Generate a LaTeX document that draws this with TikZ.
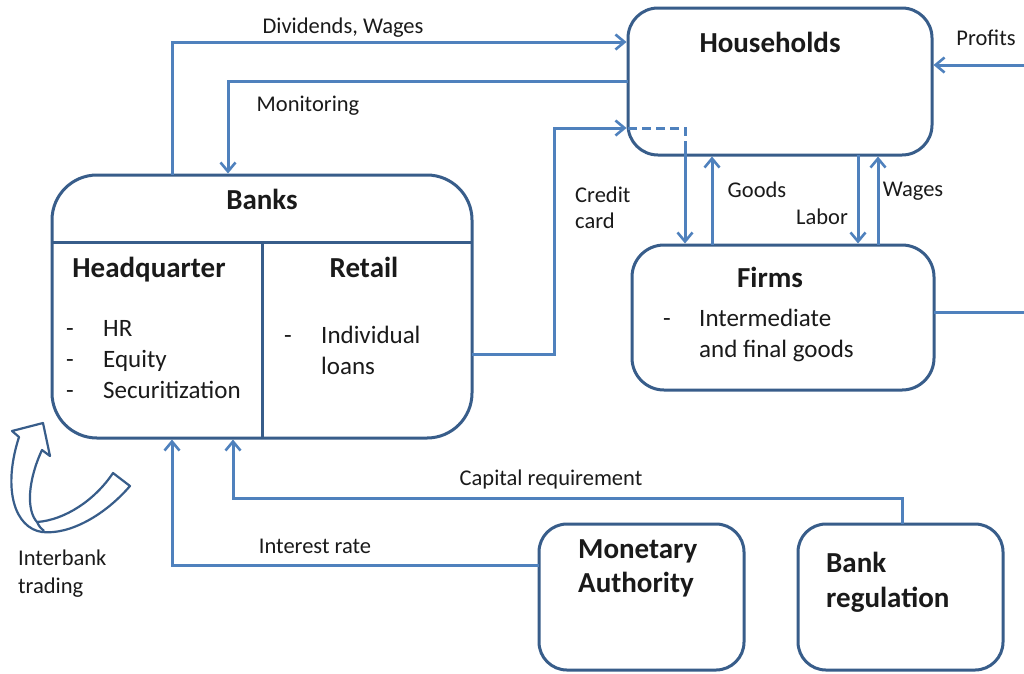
\documentclass[tikz,border=0pt]{standalone}
\usepackage{fontspec}
\setmainfont{Carlito}
\usetikzlibrary{arrows.meta}
\definecolor{boxblue}{HTML}{385D8A}
\definecolor{linkblue}{HTML}{4F81BD}
\definecolor{txt}{HTML}{1A1A1A}
\begin{document}
\begin{tikzpicture}[x=1pt,y=-1pt,
  box/.style={draw=boxblue, line width=3pt, fill=white, inner sep=0pt, outer sep=0pt, rounded corners=#1},
  box/.default=30pt,
  boxline/.style={draw=boxblue, line width=3pt},
  link/.style={draw=linkblue, line width=3pt},
  barb/.style={-{Straight Barb[length=9pt,width=15pt,line width=2.6pt]}, shorten >=1.5pt},
  lab/.style={font=\fontsize{22.5}{25}\selectfont, text=txt, inner sep=0pt},
  ttl/.style={font=\fontsize{29}{34}\selectfont\bfseries, text=txt, inner sep=0pt},
  itm/.style={font=\fontsize{25}{31}\selectfont, text=txt, inner sep=0pt}]
\fill[white] (0,0) rectangle (1024,673);
\useasboundingbox (0,0) rectangle (1024,673);

% boxes
\node[box=30pt, minimum width=304pt, minimum height=147pt] (hh) at (780,81.5) {};
\node[box=45pt, minimum width=420pt, minimum height=263pt] (banks) at (262,306.5) {};
\node[box=32pt, minimum width=302pt, minimum height=145pt] (firms) at (783,317.5) {};
\node[box=28pt, minimum width=205pt, minimum height=146pt] (ma) at (641.5,597) {};
\node[box=28pt, minimum width=205pt, minimum height=146pt] (br) at (900.5,597) {};

% banks dividers
\coordinate (divy) at (0,242);
\coordinate (divx) at (262,0);
\draw[boxline] (banks.west |- divy) -- (banks.east |- divy);
\draw[boxline] (divx |- divy) -- (divx |- banks.south);

% texts in boxes
\node[ttl, anchor=base] (thh) at (770,52) {Households};
\node[ttl, anchor=base] (tbanks) at (262,209) {Banks};
\node[ttl, anchor=base] (thq) at (149,277) {Headquarter};
\node[ttl, anchor=base] (tret) at (364,277) {Retail};
\node[itm, anchor=base west] (d1) at (66,336) {-};
\node[itm, anchor=base west] (d2) at (66,367) {-};
\node[itm, anchor=base west] (d3) at (66,398) {-};
\node[itm, anchor=base west] (i1) at (103,336) {HR};
\node[itm, anchor=base west] (i2) at (103,367) {Equity};
\node[itm, anchor=base west] (i3) at (103,398) {Securitization};
\node[itm, anchor=base west] (d4) at (284,343) {-};
\node[itm, anchor=base west] (i4) at (321,343) {Individual};
\node[itm, anchor=base west] (i5) at (321,374) {loans};
\node[ttl, anchor=base] (tfirms) at (770,287) {Firms};
\node[itm, anchor=base west] (d5) at (663,326) {-};
\node[itm, anchor=base west] (i6) at (699,326) {Intermediate};
\node[itm, anchor=base west] (i7) at (699,357) {and final goods};
\node[ttl, anchor=base west] (tma1) at (578,558) {Monetary};
\node[ttl, anchor=base west] (tma2) at (578,592) {Authority};
\node[ttl, anchor=base west] (tbr1) at (826,572) {Bank};
\node[ttl, anchor=base west] (tbr2) at (826,607) {regulation};

% connectors
\coordinate (c1) at (172,42);
\draw[link,barb] (banks.north -| c1) |- (hh.west |- c1);
\node[lab, anchor=base] (l1) at (343,33) {Dividends, Wages};

\coordinate (c2) at (228,81);
\draw[link,barb] (hh.west |- c2) -| (banks.north -| c2);
\node[lab, anchor=base] (l2) at (308,111) {Monitoring};

\coordinate (c3) at (554,128);
\coordinate (c3b) at (0,354);
\draw[link,barb] (banks.east |- c3b) -| (c3) -- (hh.west |- c3);
\node[lab, anchor=base west] (l3a) at (575,202) {Credit};
\node[lab, anchor=base west] (l3b) at (575,228) {card};

\coordinate (c4) at (685,128);
\coordinate (c5) at (685,149);
\draw[link, dash pattern=on 9pt off 5pt] (hh.west |- c3) -- (c4) -- (c5);
\draw[link,barb] (c5) -- (firms.north -| c5);

\coordinate (cg) at (712,0);
\draw[link,barb] (firms.north -| cg) -- (hh.south -| cg);
\node[lab, anchor=base] (l4) at (757,197) {Goods};

\coordinate (cl) at (858,0);
\draw[link,barb] (hh.south -| cl) -- (firms.north -| cl);
\node[lab, anchor=base] (l5) at (822,224) {Labor};

\coordinate (cw) at (878,0);
\draw[link,barb] (firms.north -| cw) -- (hh.south -| cw);
\node[lab, anchor=base] (l6) at (913,196) {Wages};

\coordinate (cp) at (1024,65);
\draw[link,barb] (cp) -- (hh.east |- cp);
\node[lab, anchor=base] (l7) at (986,45) {Profits};

\coordinate (cf) at (1024,312);
\draw[link] (firms.east |- cf) -- (cf);

\coordinate (ci) at (172,565);
\draw[link,barb] (ma.west |- ci) -| (banks.south -| ci);
\node[lab, anchor=base] (l8) at (315,553) {Interest rate};

\coordinate (cr) at (233,498);
\coordinate (crx) at (902,0);
\draw[link,barb] (br.north -| crx) |- (cr) -- (banks.south -| cr);
\node[lab, anchor=base] (l9) at (551,485) {Capital requirement};

% interbank curved arrow
\draw[boxblue, line width=2.2pt, fill=white, line join=round]
  (130,486) .. controls (105,515) and (70,535) .. (42,532)
  .. controls (15,528) and (2,490) .. (19,437)
  -- (12,431) -- (43,423) -- (50,456) -- (42,450)
  .. controls (28,480) and (26,510) .. (37,522)
  .. controls (65,520) and (95,500) .. (113,473) -- cycle;
\draw[boxblue, line width=2.2pt] (37,522) .. controls (39,526) and (41,529) .. (44,531);
\node[lab, anchor=base west] (l10) at (18,565) {Interbank};
\node[lab, anchor=base west] (l11) at (18,593) {trading};
\end{tikzpicture}
\end{document}
